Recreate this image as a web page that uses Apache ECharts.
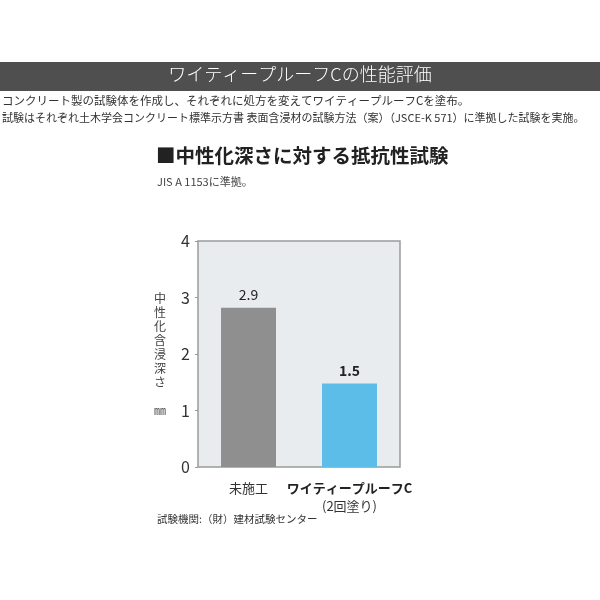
<!DOCTYPE html>
<html>
<head>
<meta charset="utf-8">
<script src="https://cdn.jsdelivr.net/npm/echarts@6/dist/echarts.min.js"></script>
<style>
  html, body { margin: 0; padding: 0; background: #fff; }
  #mychart { width: 600px; height: 600px; }
</style>
</head>
<body>
<div id="mychart"></div>
<script>
// 試験データ
var categories = ['未施工', '{b|ワイティープルーフC}\n(2回塗り)']
var barValues = [2.82, 1.48]
var valueLabels = ['2.9', '1.5']
var barColors = ['#8f8f8f', '#5cbde8']
var yTicks = [0, 1, 2, 3, 4]

var font = '"Noto Sans CJK JP", "Noto Sans", sans-serif'

var option = {
  backgroundColor: '#fff',
  animation: false,
  textStyle: { fontFamily: font },
  graphic: [
    { type: 'rect', left: 0, top: 62, shape: { width: 600, height: 29 }, style: { fill: '#4f4f4f' } },
    { type: 'text', left: 'center', top: 65, style: { text: 'ワイティープルーフCの性能評価', fill: '#fff', font: '300 18px ' + font } },
    { type: 'text', left: 2, top: 95, style: { text: 'コンクリート製の試験体を作成し、それぞれに処方を変えてワイティープルーフCを塗布。', fill: '#333', font: '11.5px ' + font } },
    { type: 'text', left: 2, top: 112, style: { text: '試験はそれぞれ土木学会コンクリート標準示方書 表面含浸材の試験方法（案）（JSCE-K 571）に準拠した試験を実施。', fill: '#333', font: '11px ' + font } },
    { type: 'text', left: 156, top: 146, style: { text: '■中性化深さに対する抵抗性試験', fill: '#222', font: 'bold 19.5px ' + font } },
    { type: 'text', left: 157, top: 176, style: { text: 'JIS A 1153に準拠。', fill: '#444', font: '11px ' + font } },
    { type: 'text', left: 157, top: 514, style: { text: '試験機関:（財）建材試験センター', fill: '#333', font: '10.5px ' + font } }
  ],
  grid: {
    left: 198, right: 200, top: 241, bottom: 133,
    show: true,
    backgroundColor: '#e9ecee',
    borderColor: '#9a9a9a',
    borderWidth: 1.5
  },
  xAxis: {
    type: 'category',
    data: categories,
    axisLine: { show: false },
    axisTick: { show: false },
    axisLabel: {
      interval: 0,
      margin: 12,
      color: '#333',
      fontSize: 13,
      lineHeight: 18,
      rich: { b: { fontWeight: 'bold', fontSize: 13, color: '#222' } }
    }
  },
  yAxis: {
    type: 'value',
    min: yTicks[0],
    max: yTicks[yTicks.length - 1],
    interval: 1,
    name: '中\n性\n化\n含\n浸\n深\nさ\n\n㎜',
    nameLocation: 'middle',
    nameRotate: 0,
    nameGap: 32,
    nameTextStyle: { color: '#444', fontSize: 12, lineHeight: 14 },
    axisLine: { show: false },
    axisTick: { show: true, length: 3, lineStyle: { color: '#999' } },
    splitLine: { show: false },
    axisLabel: { color: '#333', fontSize: 16, margin: 8 }
  },
  series: [
    {
      type: 'bar',
      barWidth: 55,
      data: barValues.map(function(v, i) {
        return {
          value: v,
          itemStyle: { color: barColors[i] },
          label: {
            show: true,
            position: 'top',
            distance: 6,
            formatter: valueLabels[i],
            color: '#222',
            fontSize: 14,
            fontWeight: i === 1 ? 'bold' : 'normal'
          }
        }
      })
    }
  ]
}

var myChart = echarts.init(document.getElementById('mychart'))
myChart.setOption(option)
</script>
</body>
</html>
